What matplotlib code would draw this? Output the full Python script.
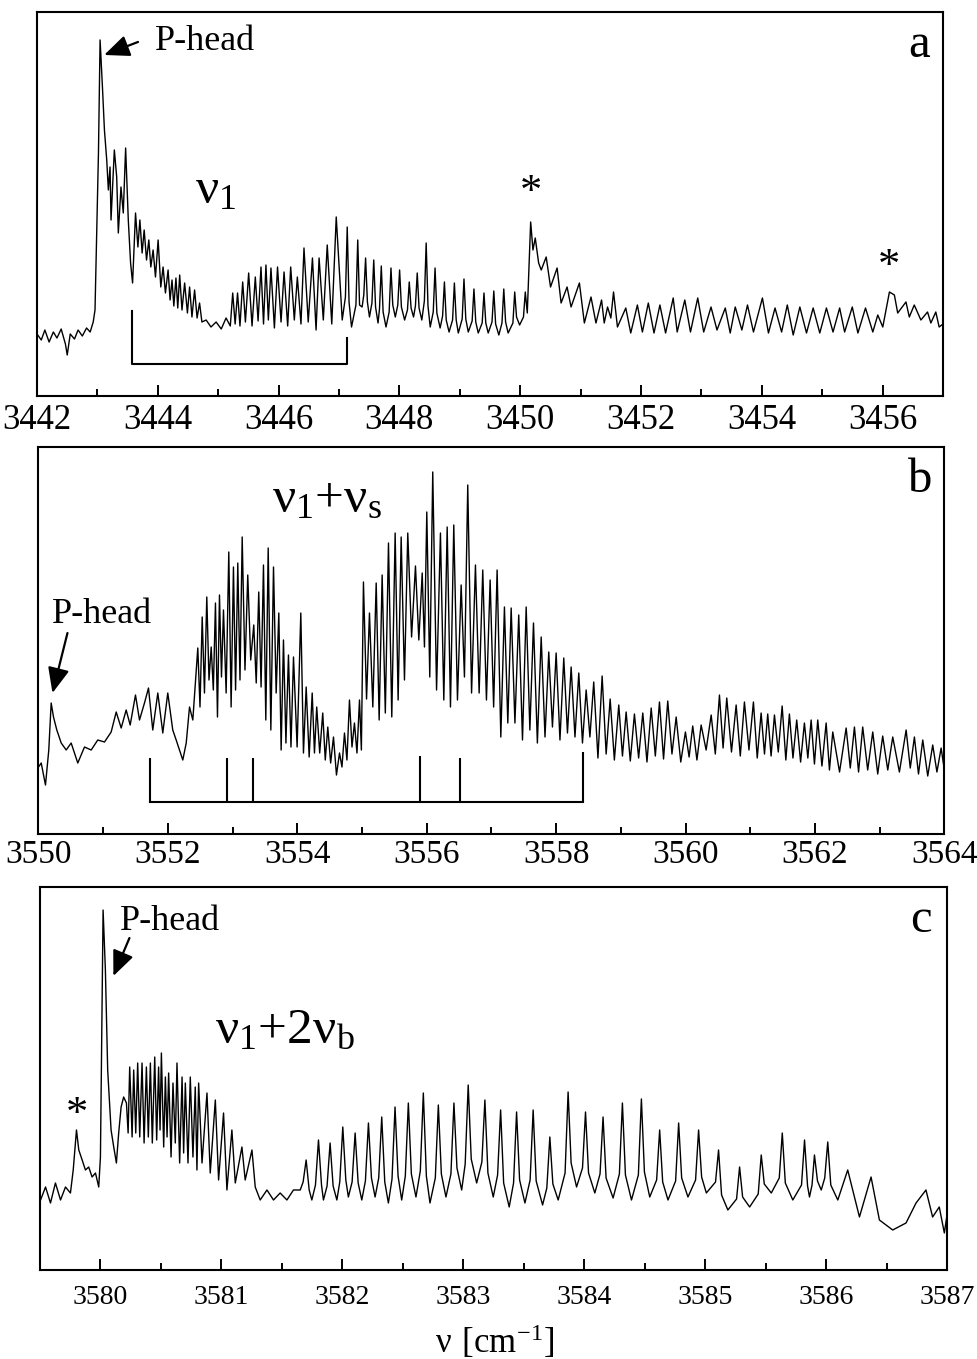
import matplotlib
matplotlib.use("Agg")
import matplotlib.pyplot as plt
from matplotlib.ticker import MultipleLocator

plt.rcParams["font.family"] = ["Liberation Serif", "DejaVu Serif"]

# ---- panel a: nu1 band (wavenumber cm-1, intensity a.u.) ----
A_NU = [
    3442.00, 3442.07, 3442.13, 3442.20, 3442.27, 3442.33, 3442.40, 3442.47, 3442.50, 3442.55,
    3442.62, 3442.68, 3442.75, 3442.82, 3442.88, 3442.93, 3442.96, 3443.017, 3443.044, 3443.083,
    3443.116, 3443.154, 3443.181, 3443.209, 3443.225, 3443.28, 3443.319, 3443.346, 3443.39, 3443.428,
    3443.467, 3443.511, 3443.549, 3443.582, 3443.631, 3443.67, 3443.703, 3443.74, 3443.774, 3443.813,
    3443.851, 3443.884, 3443.922, 3443.961, 3444.005, 3444.049, 3444.087, 3444.126, 3444.17, 3444.203,
    3444.235, 3444.265, 3444.30, 3444.33, 3444.362, 3444.40, 3444.444, 3444.49, 3444.526, 3444.565,
    3444.609, 3444.65, 3444.691, 3444.73, 3444.80, 3444.88, 3444.965, 3445.05, 3445.13, 3445.20,
    3445.24, 3445.28, 3445.32, 3445.36, 3445.405, 3445.45, 3445.504, 3445.56, 3445.614, 3445.66,
    3445.708, 3445.75, 3445.79, 3445.83, 3445.873, 3445.93, 3445.982, 3446.04, 3446.09, 3446.15,
    3446.20, 3446.26, 3446.31, 3446.37, 3446.42, 3446.49, 3446.56, 3446.62, 3446.67, 3446.74,
    3446.805, 3446.88, 3446.954, 3447.053,
    3447.106, 3447.136, 3447.166, 3447.207, 3447.28, 3447.31, 3447.34, 3447.382,
    3447.41, 3447.44, 3447.47, 3447.504, 3447.545, 3447.575, 3447.605, 3447.646,
    3447.67, 3447.70, 3447.73, 3447.778, 3447.83, 3447.86, 3447.89, 3447.932,
    3447.973, 3448.003, 3448.033, 3448.086, 3448.133, 3448.163, 3448.193, 3448.234,
    3448.265, 3448.295, 3448.325, 3448.371, 3448.413, 3448.443, 3448.473, 3448.51,
    3448.56, 3448.59, 3448.62, 3448.674, 3448.715, 3448.745, 3448.775, 3448.822,
    3448.88, 3448.91, 3448.94, 3448.975, 3449.039, 3449.069, 3449.099, 3449.14,
    3449.204, 3449.234, 3449.264, 3449.305, 3449.37, 3449.40, 3449.43, 3449.47,
    3449.533, 3449.563, 3449.593, 3449.646, 3449.698, 3449.728, 3449.758, 3449.80,
    3449.879, 3449.909, 3449.939, 3449.99, 3450.054, 3450.084, 3450.117,
    3450.173, 3450.211, 3450.249, 3450.305, 3450.348, 3450.43,
    3450.502, 3450.611, 3450.677, 3450.776, 3450.842, 3450.98, 3451.062, 3451.172, 3451.254, 3451.347,
    3451.391, 3451.446, 3451.501, 3451.545, 3451.61, 3451.748, 3451.83, 3451.94, 3452.023, 3452.121,
    3452.215, 3452.313, 3452.407, 3452.533, 3452.599, 3452.725, 3452.819, 3452.939, 3453.038, 3453.159,
    3453.258, 3453.395, 3453.477, 3453.56, 3453.67, 3453.763, 3453.862, 3454.01, 3454.11, 3454.219,
    3454.328, 3454.422, 3454.52, 3454.63, 3454.74, 3454.85, 3454.96, 3455.07, 3455.179, 3455.289,
    3455.371, 3455.498, 3455.591, 3455.717, 3455.838, 3455.92, 3456.003, 3456.113, 3456.195, 3456.25,
    3456.387, 3456.442, 3456.524, 3456.634, 3456.744, 3456.799, 3456.881, 3456.936, 3457.00,
]
A_INT = [
    62, 56, 66, 54, 64, 58, 67, 52, 41, 62,
    57, 66, 60, 68, 64, 74, 86, 243, 356, 309,
    266, 236, 206, 229, 176, 246, 219, 163, 209, 183,
    248, 176, 133, 113, 183, 149, 176, 143, 166, 136,
    156, 129, 146, 119, 156, 109, 129, 103, 126, 96,
    116, 90, 118, 88, 121, 86, 113, 83, 109, 79,
    106, 78, 93, 74, 76, 69, 74, 67, 78, 70,
    103, 72, 103, 70, 114, 74, 123, 70, 119, 75,
    129, 72, 131, 76, 128, 68, 129, 74, 124, 70,
    129, 76, 119, 72, 148, 74, 138, 66, 138, 76,
    151, 72, 179, 76,
    99, 169, 94, 69, 91, 156, 91, 89,
    101, 138, 94, 79, 93, 136, 89, 73,
    87, 130, 84, 69, 84, 128, 91, 79,
    91, 126, 89, 76, 86, 114, 88, 79,
    90, 123, 88, 76, 95, 153, 90, 69,
    84, 128, 83, 68, 80, 114, 76, 64,
    76, 113, 76, 63, 77, 117, 77, 64,
    75, 107, 74, 63, 73, 103, 73, 63,
    74, 105, 72, 61, 73, 107, 74, 63,
    73, 104, 79, 71, 79, 104, 83,
    174, 146, 158, 133, 126, 139,
    109, 128, 93, 109, 89, 113, 73, 99, 73, 96,
    73, 89, 78, 104, 69, 88, 63, 91, 64, 93,
    63, 91, 63, 98, 64, 96, 64, 98, 64, 89,
    66, 88, 63, 89, 66, 91, 64, 98, 63, 88,
    64, 91, 61, 89, 63, 88, 63, 88, 64, 88,
    64, 89, 63, 88, 64, 81, 69, 104, 101, 83,
    94, 79, 91, 76, 84, 73, 84, 69, 72,
]

# ---- panel b: nu1+nus band ----
B_NU = [
    3550.00, 3550.042, 3550.108, 3550.159, 3550.196, 3550.232, 3550.283, 3550.351, 3550.428, 3550.505,
    3550.607, 3550.711, 3550.814, 3550.916, 3551.02, 3551.123, 3551.201, 3551.278, 3551.355, 3551.417,
    3551.499, 3551.561, 3551.638, 3551.70, 3551.766, 3551.844, 3551.921, 3551.998, 3552.075, 3552.128,
    3552.179, 3552.23, 3552.283, 3552.334, 3552.385, 3552.462, 3552.496, 3552.53, 3552.565, 3552.601,
    3552.635, 3552.669, 3552.702, 3552.735, 3552.766, 3552.797, 3552.828, 3552.859, 3552.90, 3552.941,
    3552.977, 3553.013, 3553.046, 3553.08, 3553.114, 3553.148, 3553.191, 3553.234, 3553.28, 3553.327,
    3553.365, 3553.404, 3553.44, 3553.477, 3553.513, 3553.55, 3553.591, 3553.632, 3553.673, 3553.714,
    3553.75, 3553.786, 3553.824, 3553.863, 3553.902, 3553.941, 3553.997, 3554.054, 3554.095, 3554.137,
    3554.183, 3554.23, 3554.265, 3554.30, 3554.346, 3554.393, 3554.432, 3554.471, 3554.515, 3554.559,
    3554.605, 3554.652, 3554.69, 3554.729, 3554.767, 3554.806, 3554.845, 3554.883, 3554.922, 3554.961,
    3554.99, 3555.022, 3555.07, 3555.115, 3555.167, 3555.219, 3555.265, 3555.311, 3555.36, 3555.409,
    3555.46, 3555.512, 3555.558, 3555.605, 3555.656, 3555.707, 3555.766, 3555.826, 3555.878, 3555.93,
    3555.965, 3556.001, 3556.047, 3556.093, 3556.152, 3556.212, 3556.264, 3556.316, 3556.367, 3556.418,
    3556.475, 3556.532, 3556.583, 3556.634, 3556.693, 3556.753, 3556.81, 3556.866, 3556.923, 3556.98,
    3557.034, 3557.088, 3557.145, 3557.201, 3557.253, 3557.305, 3557.363, 3557.422, 3557.48, 3557.537,
    3557.594, 3557.65, 3557.71, 3557.769, 3557.828, 3557.886, 3557.943, 3558.0, 3558.059, 3558.118,
    3558.175, 3558.232, 3558.291, 3558.35, 3558.407, 3558.464, 3558.522, 3558.581, 3558.646, 3558.711,
    3558.773, 3558.835, 3558.90, 3558.968, 3559.025, 3559.082, 3559.146, 3559.21, 3559.275, 3559.339,
    3559.404, 3559.469, 3559.533, 3559.597, 3559.66, 3559.725, 3559.79, 3559.855, 3559.926, 3559.998,
    3560.055, 3560.111, 3560.176, 3560.241, 3560.318, 3560.396, 3560.46, 3560.524, 3560.58, 3560.637,
    3560.71, 3560.782, 3560.846, 3560.91, 3560.98, 3561.049, 3561.108, 3561.168, 3561.22, 3561.27,
    3561.322, 3561.374, 3561.433, 3561.493, 3561.55, 3561.605, 3561.66, 3561.718, 3561.778, 3561.837,
    3561.89, 3561.941, 3561.992, 3562.043, 3562.108, 3562.173, 3562.224, 3562.275, 3562.38, 3562.482,
    3562.546, 3562.61, 3562.674, 3562.738, 3562.815, 3562.893, 3562.97, 3563.047, 3563.125, 3563.202,
    3563.305, 3563.409, 3563.473, 3563.537, 3563.60, 3563.666, 3563.743, 3563.82, 3563.885, 3563.95,
    3564.0,
]
B_INT = [
    67, 71, 49, 84, 131, 117, 104, 91, 84, 91,
    71, 87, 84, 94, 92, 102, 122, 106, 124, 109,
    139, 114, 131, 146, 104, 141, 101, 141, 104, 94,
    84, 74, 91, 127, 114, 186, 127, 217, 141, 237,
    154, 187, 144, 231, 117, 239, 157, 224, 141, 282,
    127, 267, 144, 271, 154, 297, 164, 259, 174, 209,
    151, 242, 147, 269, 114, 286, 104, 267, 141, 221,
    84, 194, 91, 179, 87, 177, 87, 221, 81, 147,
    77, 141, 81, 127, 81, 121, 74, 107, 71, 97,
    59, 81, 67, 101, 74, 134, 87, 111, 81, 134,
    84, 252, 135, 221, 127, 251, 114, 259, 121, 291,
    117, 301, 134, 297, 154, 301, 197, 268, 194, 261,
    187, 322, 157, 362, 144, 301, 134, 307, 127, 309,
    134, 249, 157, 349, 141, 269, 141, 264, 134, 254,
    127, 264, 97, 227, 111, 226, 111, 219, 94, 227,
    104, 211, 91, 197, 97, 182, 107, 181, 94, 176,
    101, 167, 97, 161, 91, 144, 97, 152, 76, 158,
    80, 135, 74, 129, 78, 122, 73, 120, 76, 121,
    72, 126, 78, 132, 75, 133, 80, 117, 72, 102,
    77, 108, 74, 109, 84, 119, 80, 139, 86, 136,
    82, 129, 78, 132, 84, 132, 76, 121, 80, 120,
    78, 119, 82, 128, 74, 120, 76, 114, 72, 111,
    76, 114, 70, 114, 68, 111, 64, 102, 62, 106,
    66, 107, 62, 107, 64, 102, 60, 98, 64, 97,
    62, 104, 66, 97, 60, 94, 58, 89, 62, 86,
    64,
]

# ---- panel c: nu1+2nub band ----
C_NU = [
    3579.505, 3579.546, 3579.587, 3579.628, 3579.67, 3579.711, 3579.752, 3579.775, 3579.802, 3579.821,
    3579.849, 3579.876, 3579.903, 3579.931, 3579.959, 3579.986, 3580.0, 3580.022, 3580.041, 3580.06,
    3580.088, 3580.11, 3580.132, 3580.151, 3580.171, 3580.192, 3580.215, 3580.229, 3580.242, 3580.262,
    3580.275, 3580.292, 3580.308, 3580.325, 3580.344, 3580.361, 3580.38, 3580.396, 3580.413, 3580.429,
    3580.449, 3580.465, 3580.481, 3580.493, 3580.504, 3580.523, 3580.537, 3580.551, 3580.564, 3580.584,
    3580.60, 3580.619, 3580.633, 3580.655, 3580.675, 3580.688, 3580.702, 3580.724, 3580.743, 3580.765,
    3580.784, 3580.798, 3580.812, 3580.84, 3580.881, 3580.908, 3580.95, 3580.977, 3581.018, 3581.046,
    3581.087, 3581.115, 3581.17, 3581.197, 3581.253, 3581.28, 3581.321, 3581.377, 3581.431, 3581.486,
    3581.542, 3581.596, 3581.652,
    3581.676, 3581.701, 3581.726, 3581.748, 3581.778, 3581.803, 3581.828, 3581.844,
    3581.874, 3581.899, 3581.924, 3581.955, 3581.979, 3582.004, 3582.029, 3582.05,
    3582.081, 3582.106, 3582.131, 3582.161, 3582.191, 3582.216, 3582.241, 3582.271,
    3582.301, 3582.326, 3582.351, 3582.381, 3582.411, 3582.436, 3582.461, 3582.491,
    3582.521, 3582.546, 3582.571, 3582.609, 3582.645, 3582.67, 3582.695, 3582.725,
    3582.769, 3582.794, 3582.819, 3582.857, 3582.898, 3582.923, 3582.948, 3582.987,
    3583.016, 3583.041, 3583.066, 3583.111, 3583.154, 3583.179, 3583.204, 3583.248,
    3583.284, 3583.309, 3583.334, 3583.38, 3583.416, 3583.441, 3583.466, 3583.51,
    3583.553, 3583.578, 3583.603, 3583.656, 3583.691, 3583.716, 3583.741, 3583.785,
    3583.842, 3583.867, 3583.892, 3583.937, 3583.986, 3584.011, 3584.036, 3584.088,
    3584.131, 3584.156, 3584.181, 3584.239, 3584.291, 3584.316, 3584.341, 3584.391,
    3584.448, 3584.473, 3584.498, 3584.542, 3584.599, 3584.624, 3584.649, 3584.693,
    3584.756, 3584.781, 3584.806, 3584.858, 3584.921, 3584.946, 3584.971, 3585.01,
    3585.086, 3585.111, 3585.136, 3585.188, 3585.26, 3585.285, 3585.31, 3585.368,
    3585.439, 3585.464, 3585.489, 3585.547, 3585.613, 3585.638, 3585.663, 3585.725,
    3585.797, 3585.822, 3585.847, 3585.863, 3585.884, 3585.904, 3585.929, 3585.96,
    3585.989, 3586.014, 3586.039, 3586.097,
    3586.179, 3586.276, 3586.372, 3586.414, 3586.441, 3586.551, 3586.661, 3586.744, 3586.826, 3586.881,
    3586.936, 3586.978, 3587.0,
]
C_INT = [
    70, 83, 67, 87, 70, 83, 77, 100, 140, 120,
    110, 100, 103, 93, 97, 83, 113, 360, 300, 200,
    140, 123, 107, 137, 163, 173, 167, 137, 203, 133,
    200, 137, 207, 133, 207, 127, 203, 133, 207, 127,
    213, 130, 203, 140, 217, 123, 193, 133, 197, 113,
    187, 127, 207, 107, 193, 117, 187, 107, 193, 113,
    183, 100, 187, 107, 177, 97, 170, 90, 157, 80,
    140, 87, 123, 90, 120, 83, 70, 80, 70, 77,
    70, 80, 80,
    88, 110, 80, 70, 85, 130, 85, 70,
    84, 127, 84, 70, 88, 143, 90, 73,
    88, 137, 87, 70, 89, 147, 92, 73,
    92, 153, 88, 67, 91, 163, 94, 70,
    94, 167, 96, 73, 99, 177, 94, 67,
    92, 165, 96, 73, 96, 167, 102, 80,
    106, 185, 111, 87, 108, 170, 97, 73,
    95, 160, 87, 63, 87, 158, 90, 67,
    90, 160, 89, 65, 82, 133, 86, 70,
    97, 178, 107, 83, 102, 158, 97, 77,
    96, 153, 92, 72, 96, 167, 95, 70,
    95, 171, 98, 73, 90, 140, 88, 70,
    89, 147, 92, 73, 90, 140, 93, 77,
    88, 120, 75, 60, 71, 103, 73, 63,
    76, 115, 86, 77, 92, 137, 87, 70,
    85, 130, 84, 73, 85, 115, 89, 80,
    92, 128, 85, 70,
    100, 53, 93, 67, 50, 40, 47, 67, 80, 53,
    63, 37, 55,
]

# assignment brackets (cm-1) and their tick heights
A_BRACKET = [3443.573, 3447.13]
B_BRACKET = [3551.73, 3552.92, 3553.32, 3555.90, 3556.52, 3558.41]
B_BRACKET_TOP = [76, 76, 76, 78, 76, 82]


def style_axis(ax, xlim, major, minor, ytop, labelsize, pad):
    ax.set_xlim(*xlim)
    ax.set_ylim(0, ytop)
    ax.xaxis.set_major_locator(MultipleLocator(major))
    ax.xaxis.set_minor_locator(MultipleLocator(minor))
    ax.tick_params(axis="x", which="major", direction="in", length=8, width=1.4,
                   labelsize=labelsize, pad=pad, top=False)
    ax.tick_params(axis="x", which="minor", direction="in", length=5, width=1.4, top=False)
    ax.tick_params(axis="y", left=False, labelleft=False)
    for s in ax.spines.values():
        s.set_linewidth(1.5)


def arrow(ax, tail, tip):
    ax.annotate("", xy=tip, xytext=tail,
                arrowprops=dict(arrowstyle="-|>,head_length=0.7,head_width=0.3",
                                lw=1.6, color="k", shrinkA=0, shrinkB=0, mutation_scale=22))


W, H = 977, 1359
fig = plt.figure(figsize=(W / 100, H / 100), dpi=100)

# panel a
ax = fig.add_axes([0.0379, 0.7086, 0.9273, 0.2826])
ax.plot(A_NU, A_INT, color="k", lw=1.0)
style_axis(ax, (3442, 3457), 2, 1, 384, 25, 6)
ax.plot([A_BRACKET[0], A_BRACKET[0], A_BRACKET[1], A_BRACKET[1]], [85, 32, 32, 58],
        color="k", lw=1.5)
ax.text(3443.95, 346, "P-head", fontsize=26, va="baseline")
arrow(ax, (3443.672, 354), (3443.112, 341))
ax.text(3444.61, 193, r"$\mathregular{ν_1}$", fontsize=37, va="baseline")
ax.text(3450.18, 192, "*", fontsize=32, ha="center", va="baseline")
ax.text(3456.11, 118, "*", fontsize=32, ha="center", va="baseline")
ax.text(0.986, 0.883, "a", fontsize=35, ha="right", va="baseline", transform=ax.transAxes)

# panel b
ax = fig.add_axes([0.0394, 0.3863, 0.9272, 0.2848])
ax.plot(B_NU, B_INT, color="k", lw=1.0)
style_axis(ax, (3550, 3564), 2, 1, 387, 24, 4)
ax.plot([B_BRACKET[0], B_BRACKET[-1]], [32, 32], color="k", lw=1.5)
ax.vlines(B_BRACKET, 32, B_BRACKET_TOP, color="k", lw=1.5)
ax.text(3550.216, 211, "P-head", fontsize=26, va="baseline")
arrow(ax, (3550.448, 201), (3550.216, 141))
ax.text(3553.616, 322, r"$\mathregular{ν_1{+}ν_s}$", fontsize=37, va="baseline")
ax.text(0.987, 0.884, "b", fontsize=35, ha="right", va="baseline", transform=ax.transAxes)

# panel c
ax = fig.add_axes([0.0409, 0.0655, 0.9284, 0.2818])
ax.plot(C_NU, C_INT, color="k", lw=1.0)
style_axis(ax, (3579.5, 3587), 1, 0.5, 383, 20, 11)
ax.text(3579.81, 144, "*", fontsize=32, ha="center", va="baseline")
ax.text(3580.165, 340, "P-head", fontsize=26, va="baseline")
arrow(ax, (3580.24, 332), (3580.107, 294))
ax.text(3580.95, 227, r"$\mathregular{ν_1{+}2ν_b}$", fontsize=37, va="baseline")
ax.text(0.983, 0.883, "c", fontsize=35, ha="right", va="baseline", transform=ax.transAxes)

fig.text(0.506, 0.0044, r"$\mathregular{ν\ [cm^{-1}]}$", fontsize=25, ha="center", va="baseline")

fig.savefig("out.png", dpi=100)
